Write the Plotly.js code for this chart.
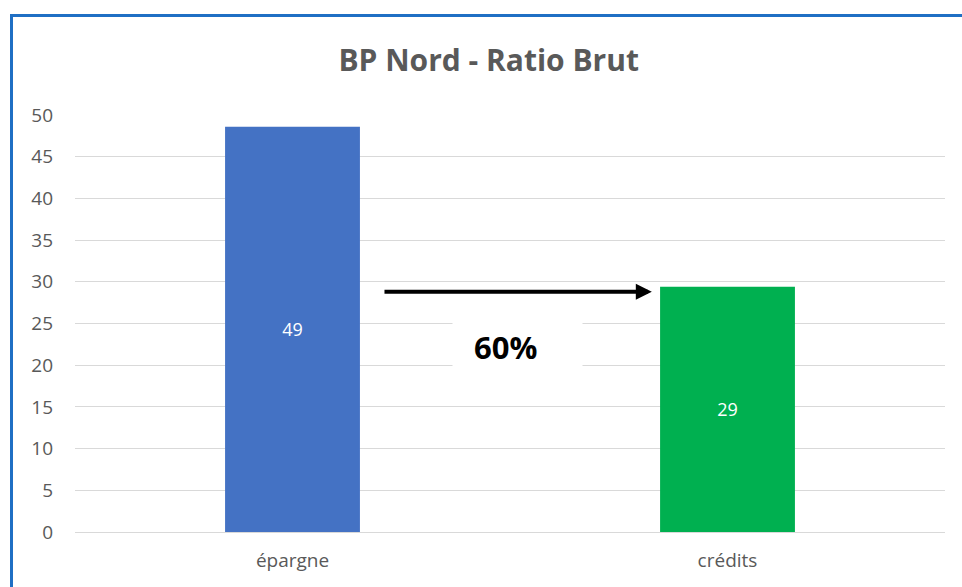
<!DOCTYPE html>
<html><head><meta charset="utf-8">
<script src="https://cdn.plot.ly/plotly-3.0.1.min.js"></script>
<style>
html,body{margin:0;padding:0;background:#fff;overflow:hidden}
#chart{width:962px;height:587px;position:absolute;left:0;top:0}
#frame{position:absolute;left:10px;top:14px;width:1000px;height:700px;border:3px solid #1f6fc4;box-sizing:border-box;pointer-events:none}
</style></head>
<body>
<div id="chart"></div>
<div id="frame"></div>
<script>
const categories = ["épargne", "crédits"];
const values = [48.6, 29.4];
const barColors = ["#4472C4", "#00B050"];
const tickVals = [0, 5, 10, 15, 20, 25, 30, 35, 40, 45, 50];
const ratioLabel = "60%";
const titleText = "BP Nord - Ratio Brut";

const trace = {
  type: "bar",
  x: categories,
  y: values,
  marker: {color: barColors},
  text: values.map(v => String(Math.round(v))),
  textposition: "inside",
  insidetextanchor: "middle",
  textfont: {color: "#ffffff", size: 18, family: "Open Sans, sans-serif"},
  hoverinfo: "skip"
};

const layout = {
  width: 962, height: 587,
  margin: {l: 75, r: 17, t: 115, b: 55},
  paper_bgcolor: "#ffffff", plot_bgcolor: "#ffffff",
  bargap: 0.69,
  showlegend: false,
  title: {text: "<b>" + titleText + "</b>", x: 0.508, xanchor: "center", y: 0.897, yanchor: "middle",
          font: {family: "Open Sans, sans-serif", size: 30, color: "#595959"}},
  xaxis: {type: "category", showgrid: false, zeroline: false, showline: false,
          ticks: "", ticklabelstandoff: 15,
          tickfont: {family: "Open Sans, sans-serif", size: 19, color: "#595959"}},
  yaxis: {range: [0, 50], tickvals: tickVals, showgrid: true, gridcolor: "#d9d9d9", gridwidth: 1,
          zeroline: true, zerolinecolor: "#d9d9d9", showline: false, ticks: "", ticklabelstandoff: 21,
          tickfont: {family: "Open Sans, sans-serif", size: 19, color: "#595959"}},
  annotations: [
    {x: 0.826, y: 28.8, ax: 0.208, ay: 28.8, xref: "x", yref: "y", axref: "x", ayref: "y",
     showarrow: true, arrowhead: 2, arrowsize: 0.8, arrowwidth: 4, arrowcolor: "#000000", text: ""},
    {x: 0.517, y: 22.2, xref: "x", yref: "y", showarrow: false, text: " ",
     bgcolor: "#ffffff", width: 127, height: 50, font: {size: 10}},
    {x: 0.4885, y: 22.2, xref: "x", yref: "y", showarrow: false, text: "<b>" + ratioLabel + "</b>",
     font: {family: "Open Sans, sans-serif", size: 31, color: "#000000"}}
  ]
};

Plotly.newPlot("chart", [trace], layout, {displayModeBar: false, staticPlot: true});
</script>
</body></html>
